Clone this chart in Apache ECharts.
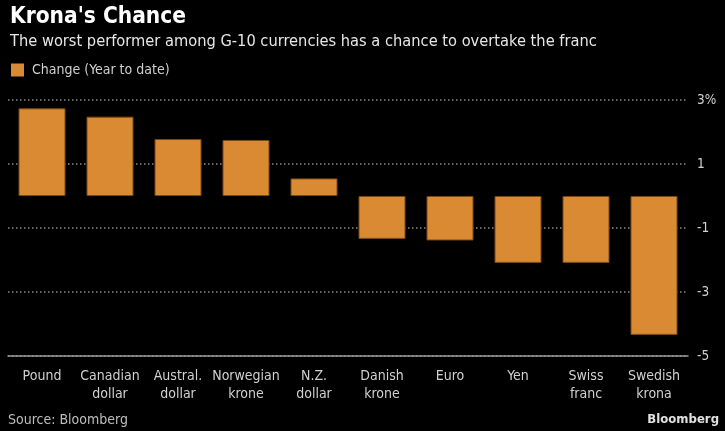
<!DOCTYPE html>
<html><head><meta charset="utf-8">
<script src="https://cdn.jsdelivr.net/npm/echarts@6/dist/echarts.min.js"></script>
<style>html,body{margin:0;padding:0;background:#000}#c{width:725px;height:431px}</style>
</head><body><div id="c"></div>
<script>
const categories = ['Pound','Canadian\ndollar','Austral.\ndollar','Norwegian\nkrone','N.Z.\ndollar','Danish\nkrone','Euro','Yen','Swiss\nfranc','Swedish\nkrona'];
const changeYTD = [2.74, 2.48, 1.78, 1.75, 0.55, -1.34, -1.39, -2.09, -2.09, -4.34];
const yTicks = [-5, -3, -1, 1, 3];
const FONT = '"DejaVu Sans Condensed","DejaVu Sans",sans-serif';
const chart = echarts.init(document.getElementById('c'));
chart.setOption({
  backgroundColor: '#000',
  animation: false,
  title: [{
    left: 10, top: 6, padding: 0,
    text: "Krona's Chance",
    textStyle: {color: '#fff', fontSize: 22.5, fontWeight: 'bold', fontFamily: FONT}
  }, {
    left: 10, top: 34, padding: 0,
    text: 'The worst performer among G-10 currencies has a chance to overtake the franc',
    textStyle: {color: '#e6e6e6', fontSize: 16.3, fontWeight: 'normal', fontFamily: FONT}
  }],
  legend: {
    left: 11, top: 63, padding: 0, itemWidth: 13, itemHeight: 13, icon: 'rect',
    itemStyle: {borderWidth: 0},
    textStyle: {color: '#cfcfcf', fontSize: 14, fontFamily: FONT, padding: [0, 0, 0, 3]},
    data: ['Change (Year to date)']
  },
  grid: {left: 8, right: 37, top: 100, bottom: 75},
  xAxis: {
    type: 'category', data: categories, position: 'bottom',
    axisLine: {onZero: false, lineStyle: {color: '#999', width: 1.5}},
    axisTick: {alignWithLabel: true, length: 4, lineStyle: {color: '#999'}},
    axisLabel: {color: '#d0d0d0', fontSize: 14, lineHeight: 18, margin: 11, fontFamily: FONT, interval: 0}
  },
  yAxis: {
    type: 'value', position: 'right', min: -5, max: 3, interval: 2,
    axisLine: {show: false}, axisTick: {show: false},
    splitLine: {show: true, lineStyle: {color: '#8a8a8a', type: [1.5, 2.5], width: 1.5}},
    axisLabel: {color: '#d0d0d0', fontSize: 13.5, margin: 9, fontFamily: FONT,
      formatter: v => (v === yTicks[yTicks.length-1] ? v + '%' : String(v))}
  },
  series: [{
    name: 'Change (Year to date)', type: 'bar', data: changeYTD, barWidth: 47,
    itemStyle: {color: '#d98a32', borderColor: '#7a4a16', borderWidth: 1}
  }],
  graphic: [
    {type: 'text', left: 8, top: 413, style: {text: 'Source: Bloomberg', fill: '#bdbdbd', fontSize: 14, fontFamily: FONT}},
    {type: 'text', right: 6, top: 413, style: {text: 'Bloomberg', fill: '#e0e0e0', fontSize: 13, fontWeight: 'bold', fontFamily: FONT}}
  ]
});
</script></body></html>
